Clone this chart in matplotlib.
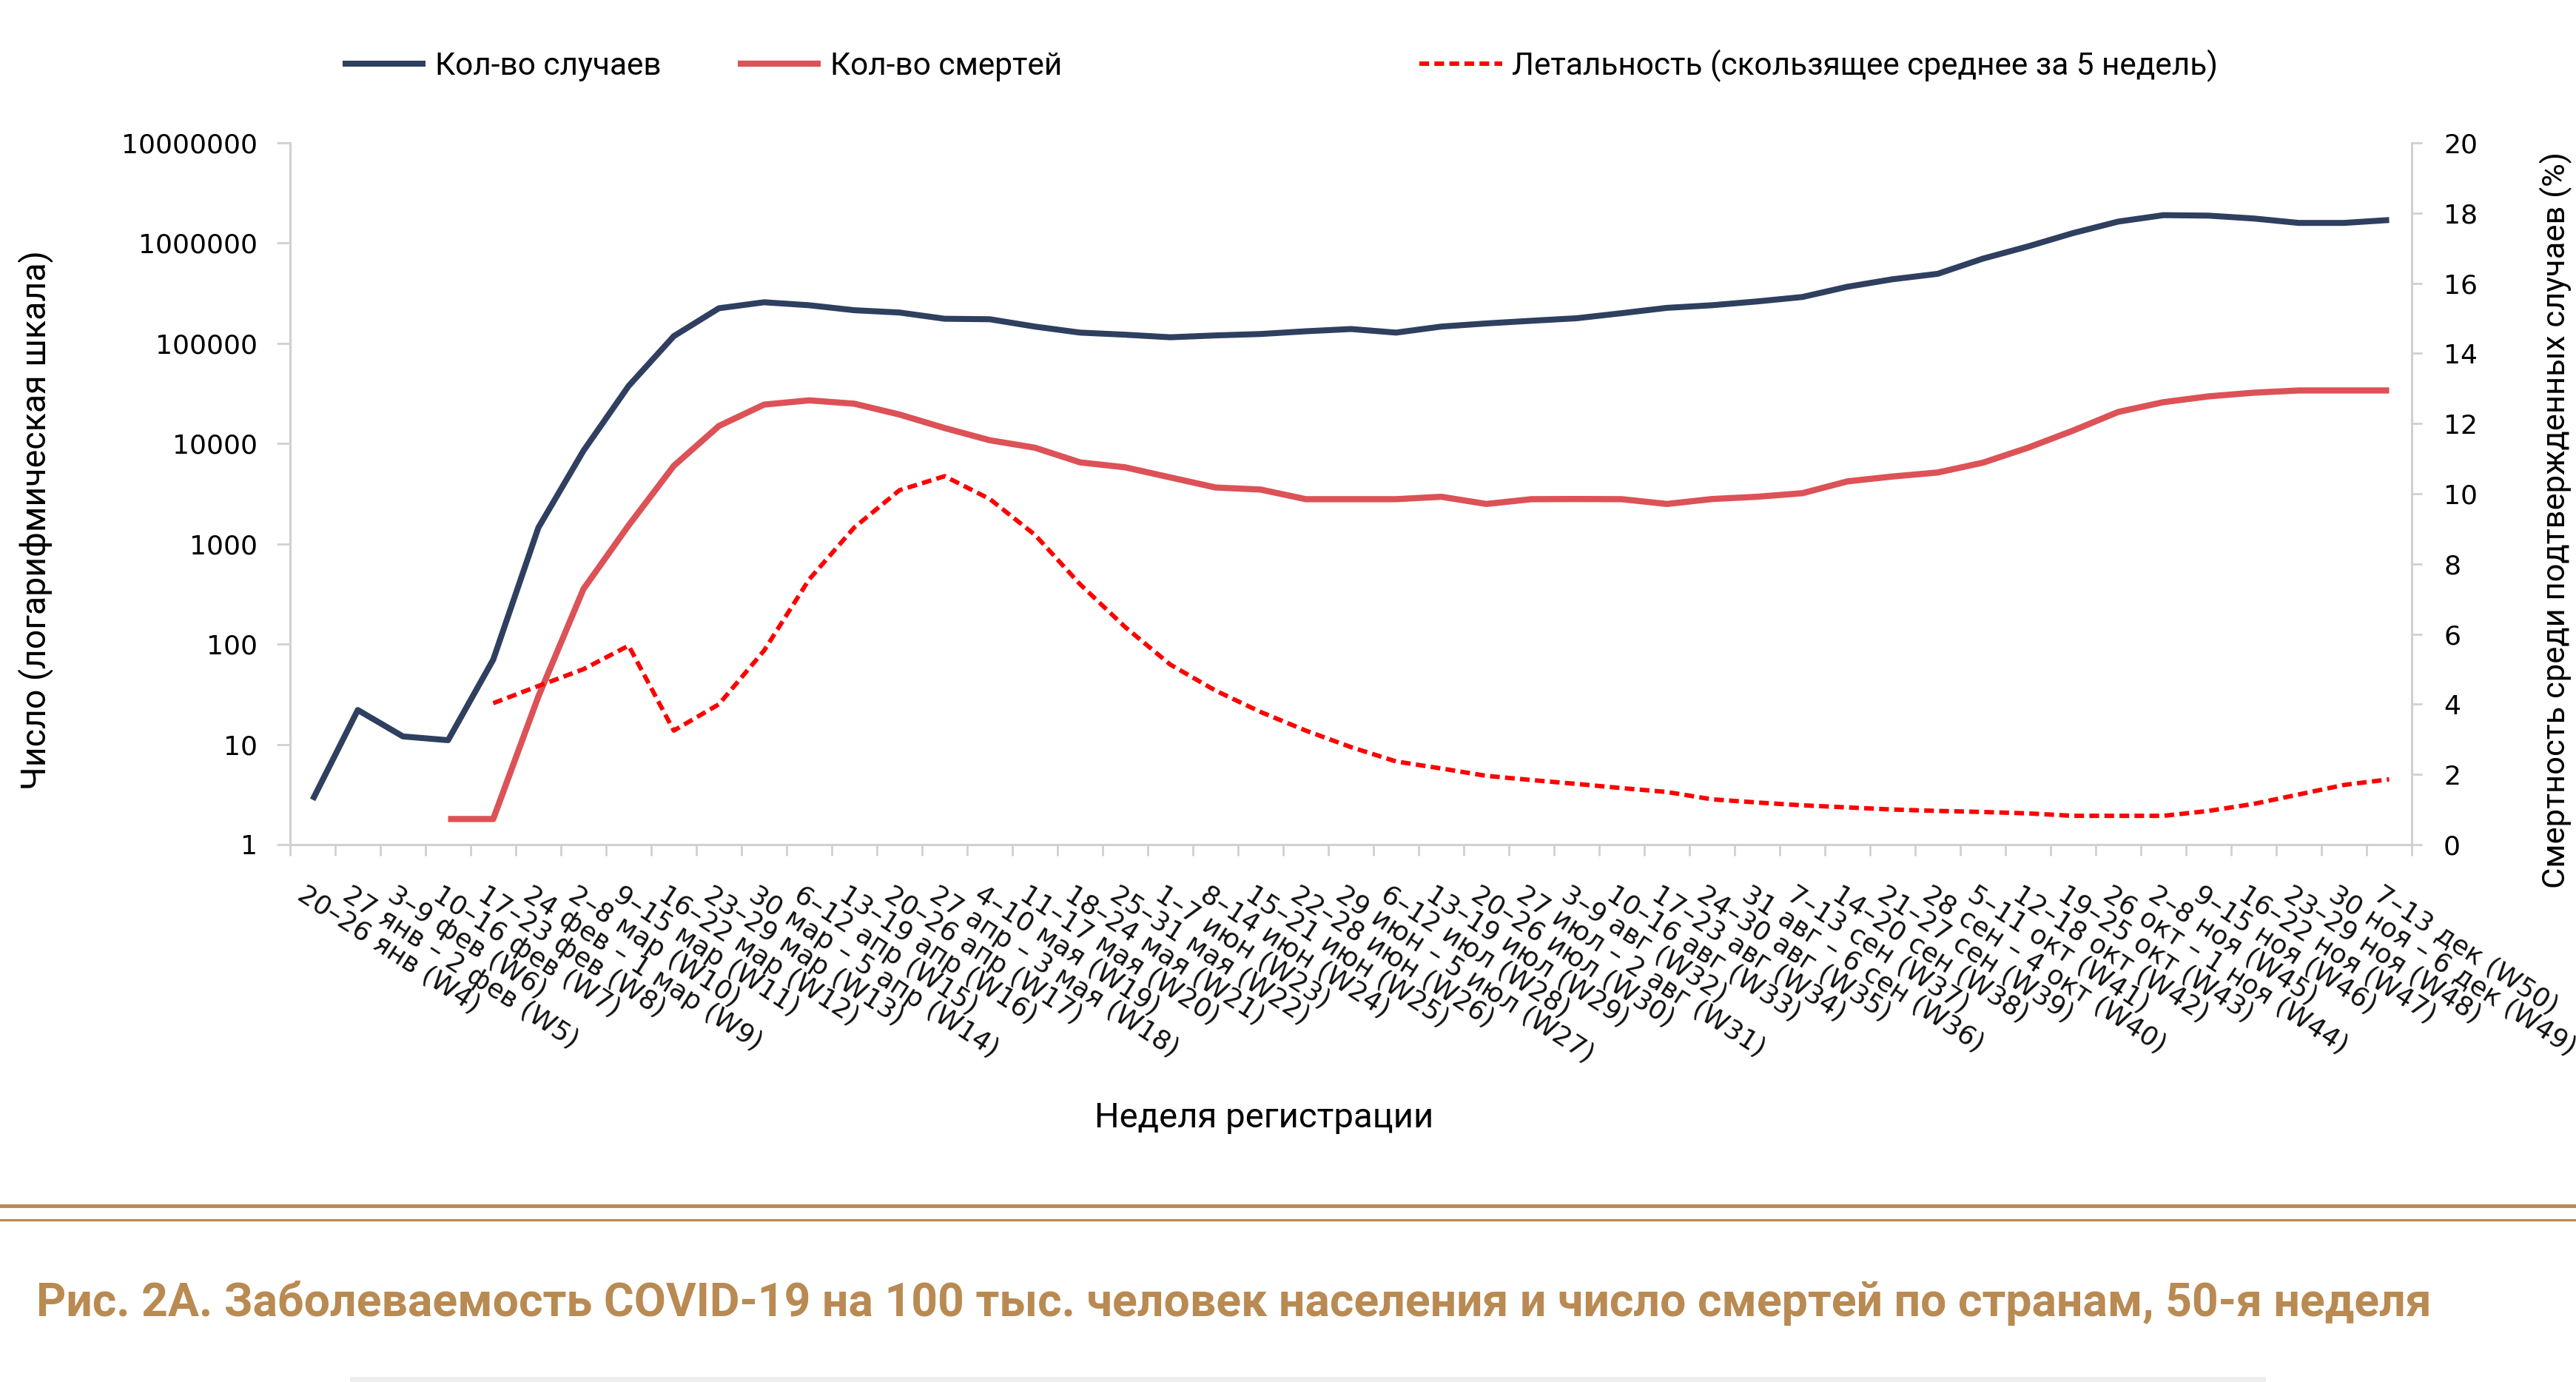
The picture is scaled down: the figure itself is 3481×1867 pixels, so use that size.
import numpy as np
import matplotlib
matplotlib.use('Agg')
import matplotlib.pyplot as plt
from matplotlib.lines import Line2D
from matplotlib.patches import Rectangle
from matplotlib.ticker import FixedLocator, NullFormatter
import matplotlib.transforms as mtransforms

# week labels (W4 .. W50)
weeks = ['20–26 янв (W4)', '27 янв – 2 фев (W5)', '3–9 фев (W6)', '10–16 фев (W7)',
         '17–23 фев (W8)', '24 фев – 1 мар (W9)', '2–8 мар (W10)', '9–15 мар (W11)',
         '16–22 мар (W12)', '23–29 мар (W13)', '30 мар – 5 апр (W14)', '6–12 апр (W15)',
         '13–19 апр (W16)', '20–26 апр (W17)', '27 апр – 3 мая (W18)', '4–10 мая (W19)',
         '11–17 мая (W20)', '18–24 мая (W21)', '25–31 мая (W22)', '1–7 июн (W23)',
         '8–14 июн (W24)', '15–21 июн (W25)', '22–28 июн (W26)', '29 июн – 5 июл (W27)',
         '6–12 июл (W28)', '13–19 июл (W29)', '20–26 июл (W30)', '27 июл – 2 авг (W31)',
         '3–9 авг (W32)', '10–16 авг (W33)', '17–23 авг (W34)', '24–30 авг (W35)',
         '31 авг – 6 сен (W36)', '7–13 сен (W37)', '14–20 сен (W38)', '21–27 сен (W39)',
         '28 сен – 4 окт (W40)', '5–11 окт (W41)', '12–18 окт (W42)', '19–25 окт (W43)',
         '26 окт – 1 ноя (W44)', '2–8 ноя (W45)', '9–15 ноя (W46)', '16–22 ноя (W47)',
         '23–29 ноя (W48)', '30 ноя – 6 дек (W49)', '7–13 дек (W50)']

# number of cases per week
cases = [2.8, 22, 12, 11, 70, 1450, 8500, 37600, 118000, 224000, 257000, 240000,
         214000, 203000, 176000, 174000, 147000, 128000, 122000, 115000, 120000,
         124000, 132000, 139000, 128000, 147000, 158000, 168000, 178000, 200000,
         226000, 240000, 262000, 290000, 367000, 436000, 494000, 700000, 927000,
         1260000, 1640000, 1900000, 1880000, 1760000, 1590000, 1590000, 1700000]

# number of deaths per week
deaths = [np.nan, np.nan, np.nan, 1.8, 1.8, 30, 355, 1530, 6000, 15000, 24500, 27000,
          25000, 19500, 14300, 10800, 9100, 6500, 5800, 4600, 3650, 3480, 2790, 2790,
          2790, 2950, 2500, 2790, 2800, 2790, 2500, 2800, 2950, 3200, 4200, 4700, 5150,
          6450, 9100, 13500, 20700, 25900, 29600, 32200, 33900, 33900, 33900]

# case fatality, 5-week moving average (%)
lethality = [np.nan, np.nan, np.nan, np.nan, 4.03, 4.52, 5.0, 5.67, 3.25, 4.0, 5.53,
             7.56, 9.04, 10.1, 10.5, 9.85, 8.83, 7.42, 6.2, 5.13, 4.39, 3.78, 3.25,
             2.78, 2.37, 2.17, 1.96, 1.84, 1.73, 1.61, 1.5, 1.29, 1.2, 1.12, 1.06, 1.0,
             0.96, 0.93, 0.89, 0.82, 0.82, 0.82, 0.96, 1.16, 1.43, 1.7, 1.86]

left_ticks = [1, 10, 100, 1000, 10000, 100000, 1000000, 10000000]
right_ticks = list(range(0, 21, 2))

W, H = 3481, 1867
grid_col = '#d0d0d0'
gold = '#b98a52'

fig = plt.figure(figsize=(W / 100, H / 100), dpi=100)
ax = fig.add_axes([392 / W, 1 - 1141 / H, (3259 - 392) / W, (1141 - 193) / H])

x = np.arange(len(weeks)) + 0.5
l1, = ax.plot(x, cases, color='#2f3f5f', linewidth=5.8, solid_capstyle='butt',
              label='Кол-во случаев', zorder=3)
l2, = ax.plot(x, deaths, color='#dc5257', linewidth=6, solid_capstyle='butt',
              label='Кол-во смертей', zorder=3)

ax.set_yscale('log')
ax.set_ylim(1, 1e7)
ax.set_xlim(0, len(weeks))
ax.set_yticks(left_ticks)
ax.set_yticklabels([str(v) for v in left_ticks])
ax.yaxis.set_minor_locator(FixedLocator([]))
ax.yaxis.set_minor_formatter(NullFormatter())

ax2 = ax.twinx()
l3, = ax2.plot(x, lethality, color='#ff0000', linewidth=4.3, dashes=(2.2, 1.2),
               label='Летальность (скользящее среднее за 5 недель)', zorder=3)
ax2.set_ylim(0, 20)
ax2.set_yticks(right_ticks)

for a in (ax, ax2):
    for s in a.spines.values():
        s.set_color(grid_col)
        s.set_linewidth(2.2)
    a.spines['top'].set_visible(False)
ax.spines['right'].set_visible(False)
ax2.spines['left'].set_visible(False)
ax2.spines['bottom'].set_visible(False)

ax.tick_params(axis='y', which='major', direction='out', length=13, width=2,
               color=grid_col, labelsize=26, pad=19, labelcolor='black')
ax2.tick_params(axis='y', which='major', direction='out', length=10, width=2,
                color=grid_col, labelsize=26, pad=21, labelcolor='black')

# category boundary ticks and rotated labels in between
ax.set_xticks(np.arange(len(weeks) + 1))
ax.set_xticklabels([])
ax.set_xticks(x, minor=True)
ax.set_xticklabels(weeks, minor=True, rotation=-33, ha='left', va='top',
                   rotation_mode='anchor', fontsize=26, color='#111111')
ax.tick_params(axis='x', which='major', direction='out', length=11, width=2,
               color=grid_col)
ax.tick_params(axis='x', which='minor', length=0, pad=36)
shift = mtransforms.ScaledTranslation(-8 / 100, 0, fig.dpi_scale_trans)
for lbl in ax.get_xticklabels(minor=True):
    lbl.set_transform(lbl.get_transform() + shift)

# legend entries spread along the top
leg_y = 1 - 89 / H
for h, xpos in ((l1, 463), (l2, 997), (l3, 1918)):
    fig.legend(handles=[h], loc='center left', bbox_to_anchor=(xpos / W, leg_y),
               frameon=False, borderpad=0, borderaxespad=0, handlelength=2.65,
               handletextpad=0.3, prop={'family': 'Roboto', 'size': 30.5})

fig.text(48 / W, 1 - 703 / H, 'Число (логарифмическая шкала)', rotation=90,
         ha='center', va='center', fontsize=33.5, family='Roboto')
fig.text(3454 / W, 1 - 702 / H, 'Смертность среди подтвержденных случаев (%)',
         rotation=90, ha='center', va='center', fontsize=31.3, family='Roboto')
fig.text(1708 / W, 1 - 1510 / H, 'Неделя регистрации', ha='center', va='center',
         fontsize=34, family='Roboto')

# decorative rules and caption under the chart
fig.add_artist(Line2D([0, 1], [1 - 1628.5 / H] * 2, transform=fig.transFigure,
                      color=gold, linewidth=3.6))
fig.add_artist(Line2D([0, 1], [1 - 1647.5 / H] * 2, transform=fig.transFigure,
                      color=gold, linewidth=2.2))
fig.text(49 / W, 1 - 1778 / H,
         'Рис. 2А. Заболеваемость COVID-19 на 100 тыс. человек населения и число смертей по странам, 50-я неделя',
         ha='left', va='baseline', fontsize=45, fontweight='bold', family='Roboto',
         color=gold)
fig.add_artist(Rectangle((473 / W, 0), (3062 - 473) / W, 7 / H,
                         transform=fig.transFigure, color='#eeeeee', linewidth=0))

fig.savefig('out.png', dpi=100)
